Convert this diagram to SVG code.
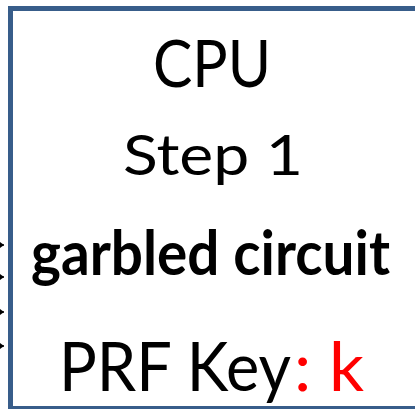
<svg xmlns="http://www.w3.org/2000/svg" width="415" height="409" viewBox="0 0 415 409">
<style>
.box{fill:#fff;stroke:#385D8A;stroke-width:5}
.t{font-family:Lato,"Open Sans","Liberation Sans",sans-serif;fill:#000}
.b{font-weight:bold}
.red{fill:#FF0000}
.conn{stroke:#000;stroke-width:1.5;fill:none}
</style>
<defs>
<marker id="ah" markerWidth="4" markerHeight="6" refX="4" refY="3" orient="auto" markerUnits="userSpaceOnUse">
<path d="M0,0 L4,3 L0,6 Z" fill="#000"/>
</marker>
</defs>
<rect width="415" height="409" fill="#fff"/>
<g id="cpu">
<rect class="box" x="10.5" y="8.5" width="420" height="400"/>
<text class="t" x="153" y="87" font-size="65" textLength="118" lengthAdjust="spacingAndGlyphs">CPU</text>
<text class="t" x="123" y="175" font-size="57" textLength="180" lengthAdjust="spacingAndGlyphs">Step 1</text>
<text class="t b" x="31" y="275" font-size="61" textLength="359" lengthAdjust="spacingAndGlyphs">garbled circuit</text>
<text class="t" x="59" y="391" font-size="67" textLength="232" lengthAdjust="spacingAndGlyphs">PRF Key</text>
<text class="t red" x="294" y="391" font-size="67" textLength="70" lengthAdjust="spacingAndGlyphs">: k</text>
</g>
<g id="connectors">
<line class="conn" x1="-5" y1="245" x2="4" y2="245" marker-end="url(#ah)"/>
<line class="conn" x1="-5" y1="277" x2="4" y2="277" marker-end="url(#ah)"/>
<line class="conn" x1="-5" y1="312" x2="4" y2="312" marker-end="url(#ah)"/>
<line class="conn" x1="-5" y1="346" x2="4" y2="346" marker-end="url(#ah)"/>
</g>
</svg>
